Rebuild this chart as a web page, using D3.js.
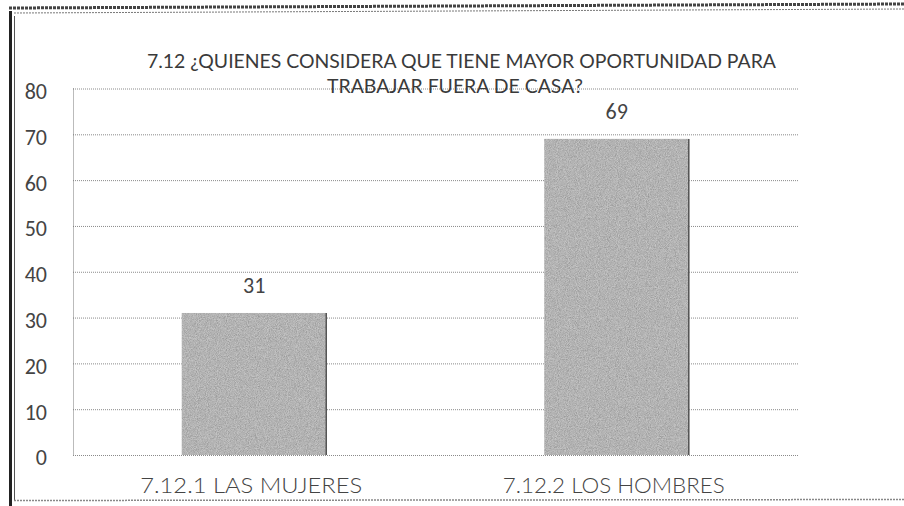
<!DOCTYPE html>
<html>
<head>
<meta charset="utf-8">
<script src="https://cdn.jsdelivr.net/npm/d3@7"></script>
<style>
  body { margin: 0; background: #fff; }
  svg { display: block; }
</style>
</head>
<body>
<div id="chart"></div>
<script>
// data
const CATEGORIES = ["7.12.1 LAS MUJERES", "7.12.2 LOS HOMBRES"];
const VALUES = [31, 69];
const Y_TICKS = [0, 10, 20, 30, 40, 50, 60, 70, 80];
const TITLE_LINES = ["7.12 ¿QUIENES CONSIDERA QUE TIENE MAYOR OPORTUNIDAD PARA",
                     "TRABAJAR FUERA DE CASA?"];

// setting up constants
const FRAME_WIDTH = 904;
const FRAME_HEIGHT = 506;
const MARGINS = {left: 73, right: 106, top: 88.5, bottom: 51};
const VIS_WIDTH = FRAME_WIDTH - MARGINS.left - MARGINS.right;
const VIS_HEIGHT = FRAME_HEIGHT - MARGINS.top - MARGINS.bottom;

const TITLE_FONT = "'Century Gothic', 'URW Gothic', Lato, 'Open Sans', sans-serif";
const NUM_FONT = "Carlito, Calibri, 'Open Sans', sans-serif";

const svg = d3.select("#chart")
    .append("svg")
        .attr("width", FRAME_WIDTH)
        .attr("height", FRAME_HEIGHT);

// grainy texture for the scanned bars
const defs = svg.append("defs");
const grain = defs.append("filter")
    .attr("id", "grain")
    .attr("x", 0).attr("y", 0).attr("width", 1).attr("height", 1);
grain.append("feTurbulence")
    .attr("type", "fractalNoise")
    .attr("baseFrequency", 1.1)
    .attr("numOctaves", 2)
    .attr("seed", 4)
    .attr("result", "noise");
grain.append("feColorMatrix")
    .attr("in", "noise")
    .attr("type", "matrix")
    .attr("values", "0 0 0 0 0  0 0 0 0 0  0 0 0 0 0  0 0 0 0.6 0")
    .attr("result", "dots");
grain.append("feComposite")
    .attr("in", "dots")
    .attr("in2", "SourceGraphic")
    .attr("operator", "in")
    .attr("result", "dotsIn");
grain.append("feMerge")
    .call(m => {
        m.append("feMergeNode").attr("in", "SourceGraphic");
        m.append("feMergeNode").attr("in", "dotsIn");
    });

// scanned page frame
svg.append("line")
    .attr("x1", 10.5).attr("x2", 10.5).attr("y1", 11).attr("y2", 506)
    .attr("stroke", "#222").attr("stroke-width", 3);
svg.append("line")
    .attr("x1", 14.5).attr("x2", 14.5).attr("y1", 16).attr("y2", 500)
    .attr("stroke", "#555").attr("stroke-width", 1);
svg.append("line")
    .attr("x1", 9).attr("x2", 904).attr("y1", 8).attr("y2", 4)
    .attr("stroke", "#444").attr("stroke-width", 3)
    .attr("stroke-dasharray", "3,1");
svg.append("line")
    .attr("x1", 14).attr("x2", 904).attr("y1", 13).attr("y2", 9)
    .attr("stroke", "#777").attr("stroke-width", 1)
    .attr("stroke-dasharray", "2,1");
svg.append("line")
    .attr("x1", 14).attr("x2", 904).attr("y1", 500.5).attr("y2", 499.5)
    .attr("stroke", "#888").attr("stroke-width", 1.5)
    .attr("stroke-dasharray", "2,1");

const FRAME1 = svg.append("g")
    .attr("transform", "translate(" + MARGINS.left + "," + MARGINS.top + ")");

// scales
const xScale = d3.scaleBand()
    .domain(CATEGORIES)
    .range([0, VIS_WIDTH])
    .paddingInner(0.6)
    .paddingOuter(0.3);

const yScale = d3.scaleLinear()
    .domain([0, 80])
    .range([VIS_HEIGHT, 0]);

// gridlines (dotted, like the scan)
FRAME1.append("g")
    .selectAll("line")
    .data(Y_TICKS)
    .enter()
    .append("line")
        .attr("x1", 0)
        .attr("x2", VIS_WIDTH)
        .attr("y1", d => yScale(d) + 0.5)
        .attr("y2", d => yScale(d) + 0.5)
        .attr("stroke", "#8a8a8a")
        .attr("stroke-width", 1)
        .attr("stroke-dasharray", "1,1");

// left axis line
FRAME1.append("line")
    .attr("x1", 0.5).attr("x2", 0.5)
    .attr("y1", yScale(80)).attr("y2", yScale(0))
    .attr("stroke", "#777")
    .attr("stroke-dasharray", "1,1");

// y tick labels through the axis generator
const yAxis = FRAME1.append("g")
    .attr("transform", "translate(-26,0)")
    .call(d3.axisLeft(yScale).tickValues(Y_TICKS).tickSize(0).tickPadding(0));
yAxis.select(".domain").remove();
yAxis.selectAll("text")
    .attr("dy", "0.45em")
    .style("font-family", NUM_FONT)
    .style("font-size", "22px")
    .style("font-weight", 400)
    .style("fill", "#444");

// bars
FRAME1.selectAll(".bar")
    .data(VALUES)
    .enter()
    .append("rect")
        .attr("class", "bar")
        .attr("x", (d, i) => xScale(CATEGORIES[i]))
        .attr("y", d => yScale(d))
        .attr("width", xScale.bandwidth())
        .attr("height", d => VIS_HEIGHT - yScale(d))
        .attr("fill", "#d2d2d2")
        .attr("filter", "url(#grain)");

// darker right edge of the bars
FRAME1.selectAll(".edge")
    .data(VALUES)
    .enter()
    .append("line")
        .attr("class", "edge")
        .attr("x1", (d, i) => xScale(CATEGORIES[i]) + xScale.bandwidth() - 0.5)
        .attr("x2", (d, i) => xScale(CATEGORIES[i]) + xScale.bandwidth() - 0.5)
        .attr("y1", d => yScale(d))
        .attr("y2", VIS_HEIGHT)
        .attr("stroke", "#555")
        .attr("stroke-width", 1.5);

// value labels
FRAME1.selectAll(".value")
    .data(VALUES)
    .enter()
    .append("text")
        .attr("class", "value")
        .attr("x", (d, i) => xScale(CATEGORIES[i]) + xScale.bandwidth() / 2)
        .attr("y", d => yScale(d) - 20)
        .attr("text-anchor", "middle")
        .style("font-family", NUM_FONT)
        .style("font-size", "22px")
        .style("font-weight", 400)
        .style("fill", "#444")
        .text(d => d);

// category labels
FRAME1.selectAll(".cat")
    .data(CATEGORIES)
    .enter()
    .append("text")
        .attr("class", "cat")
        .attr("x", d => xScale(d) + xScale.bandwidth() / 2 - 3)
        .attr("y", VIS_HEIGHT + 38)
        .attr("text-anchor", "middle")
        .attr("textLength", 222)
        .attr("lengthAdjust", "spacingAndGlyphs")
        .style("font-family", TITLE_FONT)
        .style("font-size", "21px")
        .style("font-weight", 300)
        .style("fill", "#444")
        .text(d => d);

// title
const titleWidths = [629, 256];
svg.append("g")
    .selectAll("text")
    .data(TITLE_LINES)
    .enter()
    .append("text")
        .attr("x", (d, i) => i === 0 ? 461.5 : 455)
        .attr("y", (d, i) => 68 + i * 25)
        .attr("text-anchor", "middle")
        .attr("textLength", (d, i) => titleWidths[i])
        .attr("lengthAdjust", "spacingAndGlyphs")
        .style("font-family", TITLE_FONT)
        .style("font-size", "20px")
        .style("font-weight", 400)
        .style("fill", "#3a3a3a")
        .text(d => d);
</script>
</body>
</html>
